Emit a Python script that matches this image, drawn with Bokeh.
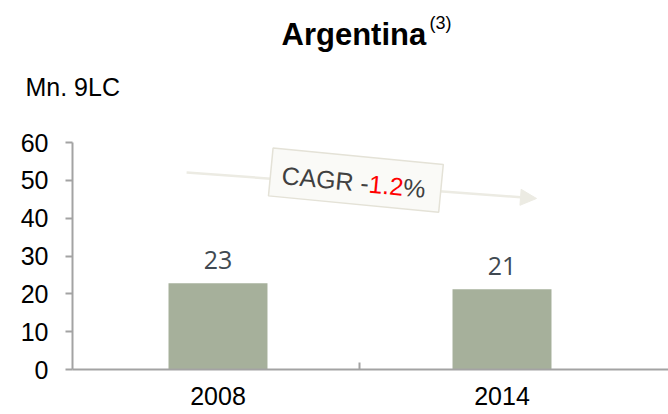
import numpy as np
from bokeh.plotting import figure
from bokeh.layouts import column
from bokeh.models import (Range1d, FixedTicker, Label, Title, Arrow, NormalHead, ColumnDataSource)
from bokeh.core.properties import value
from bokeh.embed import file_html
from bokeh.resources import INLINE

# ---- data ----
categories = ["2008", "2014"]
values = [22.8, 21.2]
value_labels = ["23", "21"]
cagr_prefix = "CAGR -"
cagr_value = "1.2"
cagr_suffix = "%"
y_ticks = [0, 10, 20, 30, 40, 50, 60]
title_text = "Argentina"
title_note = "(3)"
unit_text = "Mn. 9LC"

# positions of categories on numeric axis (1, 3) with separator tick at 2
xpos = [2 * i + 1 for i in range(len(categories))]

W, H = 668, 414
HEAD_H = 110
FONT = "Liberation Sans"
AXIS_GREY = "#A3A3A3"
BAR = "#A6B09B"

# ---- header (title + unit) ----
head = figure(width=W, height=HEAD_H, output_backend="svg", toolbar_location=None,
              x_axis_type=None, y_axis_type=None,
              x_range=Range1d(0, W), y_range=Range1d(0, HEAD_H),
              min_border_left=0, min_border_right=0, min_border_top=0, min_border_bottom=0)
head.outline_line_color = None
head.xgrid.visible = False
head.ygrid.visible = False
head.add_layout(Label(x=281, y=34, x_units="canvas", y_units="canvas", text=title_text,
                      text_font=FONT, text_font_size="31px", text_font_style="bold",
                      text_color="black", text_baseline="middle", text_align="left"))
head.add_layout(Label(x=429, y=22.5, x_units="canvas", y_units="canvas", text=title_note,
                      text_font=FONT, text_font_size="18px",
                      text_color="black", text_baseline="middle", text_align="left"))
head.add_layout(Title(text=unit_text, align="left", offset=-47, standoff=15,
                      vertical_align="top", text_font=FONT, text_font_size="25px",
                      text_font_style="normal", text_color="black"), "below")

# ---- main chart ----
p = figure(width=W, height=H - HEAD_H, output_backend="svg", toolbar_location=None,
           x_range=Range1d(-0.0246, 4.1725), y_range=Range1d(0, 60),
           min_border_left=72, min_border_right=0, min_border_top=142 - HEAD_H,
           min_border_bottom=45)
p.outline_line_color = None
p.xgrid.visible = False
p.ygrid.visible = False
p.background_fill_color = "white"
p.border_fill_color = "white"

src = ColumnDataSource(dict(x=xpos, top=values, lab=value_labels))
p.vbar(x="x", top="top", width=0.697, bottom=0, source=src,
       fill_color=BAR, line_color=None)
p.text(x="x", y="top", text="lab", source=src, text_align="center",
       text_baseline="alphabetic", y_offset=-23,
       text_font=value("Open Sans"), text_font_size="25px", text_color="#404951")

# axes
xa = p.xaxis[0]
xa.ticker = FixedTicker(ticks=xpos, minor_ticks=[2])
xa.major_label_overrides = {xv: c for xv, c in zip(xpos, categories)}
xa.axis_line_color = AXIS_GREY
xa.axis_line_width = 2
xa.major_tick_in = 0
xa.major_tick_out = 0
xa.minor_tick_in = 7
xa.minor_tick_out = 0
xa.minor_tick_line_color = AXIS_GREY
xa.minor_tick_line_width = 2
xa.major_label_text_font = FONT
xa.major_label_text_font_size = "25px"
xa.major_label_text_color = "black"
xa.major_label_standoff = 17

ya = p.yaxis[0]
ya.ticker = FixedTicker(ticks=y_ticks)
ya.axis_line_color = AXIS_GREY
ya.axis_line_width = 2
ya.major_tick_in = 0
ya.major_tick_out = 7
ya.major_tick_line_color = AXIS_GREY
ya.major_tick_line_width = 2
ya.minor_tick_line_color = None
ya.major_label_text_font = FONT
ya.major_label_text_font_size = "25px"
ya.major_label_text_color = "black"
ya.major_label_standoff = 17

# CAGR arrow
p.add_layout(Arrow(x_start=0.779, y_start=52.1, x_end=3.243, y_end=45.2,
                   line_color="#ECEBE3", line_width=2.5,
                   end=NormalHead(size=16, fill_color="#ECEBE3", line_color="#ECEBE3")))

theta = np.deg2rad(5.5)
bx, by = 1.971, 50.04
p.rect(x=[bx], y=[by], width=171, height=48, width_units="screen", height_units="screen",
       angle=-theta, fill_color="#FAFAF7", line_color="#E4E2D7", line_width=1.5,
       level="overlay")

fs = 25
pieces = [(cagr_prefix, 3.5, "#404040"), (cagr_value, 1.39, "#FF0000"), (cagr_suffix, 0.889, "#404040")]
total = sum(w for _, w, _ in pieces) * fs
d = -total / 2 - 2
perp = 2.0
for txt, w, col in pieces:
    dx = d * np.cos(theta) - perp * np.sin(theta)
    dy = d * np.sin(theta) + perp * np.cos(theta)
    p.text(x=[bx], y=[by], text=[txt], angle=-theta, x_offset=dx, y_offset=dy,
           text_align="left", text_baseline="middle", text_font=value(FONT),
           text_font_size=f"{fs}px", text_color=col, level="overlay")
    d += w * fs

layout = column(head, p, spacing=0)
open("out.html", "w").write(file_html(layout, INLINE))
